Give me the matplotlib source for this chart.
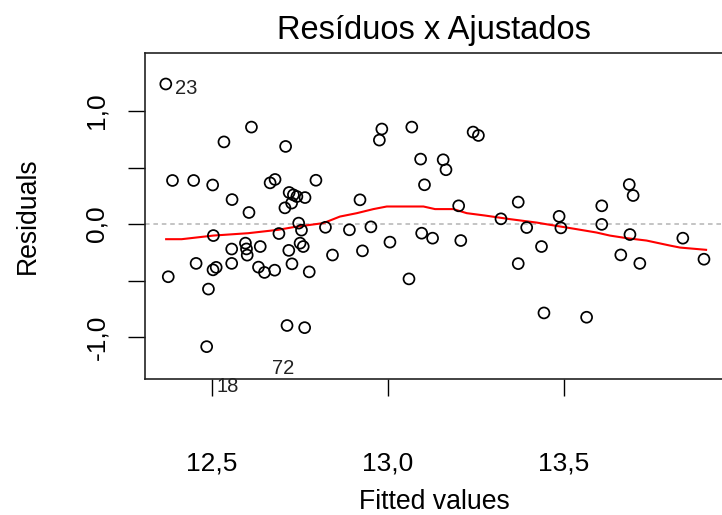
import matplotlib
matplotlib.use("Agg")
import matplotlib.pyplot as plt

plt.rcParams["font.family"] = ["Liberation Sans", "DejaVu Sans"]

# fitted values and residuals of the model
fitted = [
    12.370, 12.613, 12.535, 12.710, 12.389, 12.449, 12.503, 12.666, 12.680, 12.796,
    12.558, 12.606, 12.720, 12.732, 12.742, 12.765, 12.708, 12.727, 12.747, 12.755,
    12.505, 12.691, 12.557, 12.596, 12.599, 12.601, 12.638, 12.456, 12.557, 12.504,
    12.513, 12.633, 12.650, 12.679, 12.377, 12.491, 12.719, 12.728, 12.751, 12.760,
    12.777, 12.714, 12.764, 12.486, 12.823, 12.843, 12.891, 12.921, 12.928, 12.952,
    12.983, 12.976, 13.068, 13.093, 13.104, 13.006, 13.060, 13.096, 13.127, 13.242,
    13.257, 13.157, 13.165, 13.201, 13.207, 13.321, 13.370, 13.370, 13.394, 13.436,
    13.443, 13.486, 13.491, 13.564, 13.607, 13.607, 13.661, 13.685, 13.696, 13.687,
    13.715, 13.837, 13.897,
]
residuals = [
    1.239, 0.858, 0.727, 0.687, 0.386, 0.386, 0.346, 0.365, 0.395, 0.388,
    0.217, 0.103, 0.280, 0.259, 0.244, 0.235, 0.144, 0.186, 0.009, -0.053,
    -0.101, -0.083, -0.220, -0.168, -0.219, -0.274, -0.198, -0.347, -0.347, -0.404,
    -0.382, -0.380, -0.427, -0.407, -0.465, -0.574, -0.232, -0.351, -0.168, -0.198,
    -0.422, -0.896, -0.915, -1.083, -0.028, -0.273, -0.050, 0.215, -0.236, -0.024,
    0.841, 0.743, 0.858, 0.575, 0.348, -0.159, -0.484, -0.080, -0.124, 0.814,
    0.784, 0.569, 0.481, 0.162, -0.145, 0.047, 0.195, -0.349, -0.030, -0.198,
    -0.785, 0.069, -0.033, -0.823, 0.162, -0.002, -0.272, 0.350, 0.253, -0.092,
    -0.347, -0.124, -0.310,
]

# lowess smooth
smooth_x = [12.371, 12.415, 12.505, 12.604, 12.689, 12.737, 12.817, 12.864, 12.912,
            12.959, 12.997, 13.101, 13.134, 13.186, 13.224, 13.276, 13.347, 13.422,
            13.460, 13.531, 13.592, 13.630, 13.678, 13.734, 13.800, 13.829, 13.903]
smooth_y = [-0.133, -0.133, -0.101, -0.080, -0.050, -0.024, 0.009, 0.067, 0.097,
            0.133, 0.156, 0.156, 0.133, 0.133, 0.097, 0.076, 0.044, 0.014,
            -0.006, -0.042, -0.074, -0.101, -0.124, -0.145, -0.189, -0.207, -0.227]

# identified observations
id_labels = ["23", "72", "18"]
id_x = [12.396, 12.671, 12.513]
id_y = [1.200, -1.276, -1.431]

fig = plt.figure(figsize=(7.22, 5.15), dpi=100)
ax = fig.add_axes([145 / 722, 1 - 379 / 515, (723 - 145) / 722, (379 - 53) / 515])

ax.axhline(0, color="#B4B4B4", linestyle=(0, (3, 2.5)), linewidth=1.1, zorder=1)
ax.scatter(fitted, residuals, s=62, facecolors="none", edgecolors="black",
           linewidths=1.25, zorder=3)
ax.plot(smooth_x, smooth_y, color="red", linewidth=1.5, zorder=2)

for lab, lx, ly in zip(id_labels, id_x, id_y):
    ax.text(lx, ly, lab, fontsize=14.5, color="#222222", ha="left", va="center",
            clip_on=False, zorder=4)

ax.set_xlim(12.311, 13.951)
ax.set_ylim(-1.369, 1.513)

ax.set_xticks([12.5, 13.0, 13.5])
ax.set_xticklabels(["12,5", "13,0", "13,5"])
ax.set_yticks([-1.0, -0.5, 0.0, 0.5, 1.0])
ax.set_yticklabels(["-1,0", "", "0,0", "", "1,0"])
ax.tick_params(axis="both", direction="out", length=12, width=1.0, labelsize=19)
ax.tick_params(axis="x", pad=40)
ax.tick_params(axis="y", pad=14)
plt.setp(ax.get_yticklabels(), rotation=90, va="center")

for sp in ax.spines.values():
    sp.set_linewidth(1.2)
    sp.set_color("#222222")

ax.set_title("Resíduos x Ajustados", fontsize=23.5, pad=10)
ax.set_xlabel("Fitted values", fontsize=19.2, labelpad=10)
ax.set_ylabel("Residuals", fontsize=19.2, labelpad=32)

fig.savefig("out.png", dpi=100)
